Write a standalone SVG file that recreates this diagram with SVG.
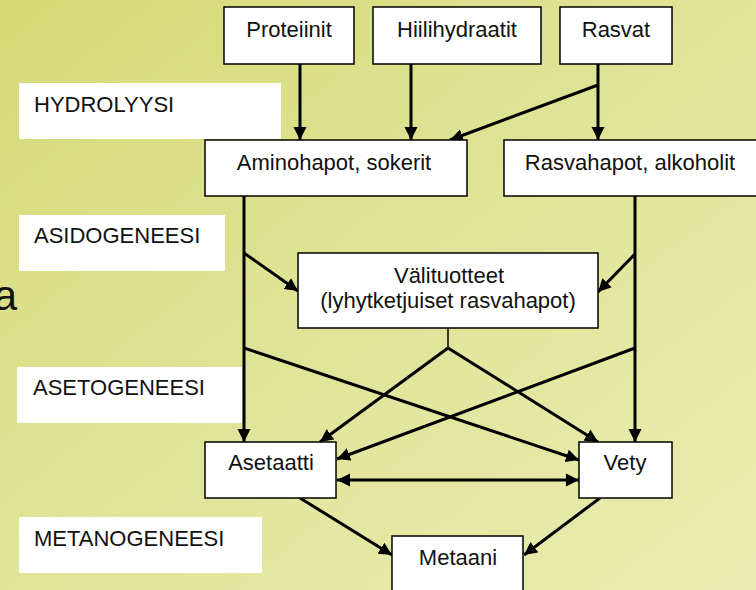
<svg xmlns="http://www.w3.org/2000/svg" width="756" height="590" viewBox="0 0 756 590">
<defs>
<linearGradient id="bg" x1="0" y1="0" x2="1" y2="1">
<stop offset="0" stop-color="#d4da76"/>
<stop offset="0.5" stop-color="#e0e498"/>
<stop offset="1" stop-color="#ebecb2"/>
</linearGradient>
<marker id="ah" markerUnits="userSpaceOnUse" markerWidth="14" markerHeight="14" viewBox="0 0 14 14" refX="13" refY="7" orient="auto-start-reverse">
<path d="M0,0.5 L13,7 L0,13.5 Z" fill="#000"/>
</marker>
<style>
.box{fill:#fff;stroke:#000;stroke-width:1.5}
.lbl{fill:#fff}
text{font-family:"Liberation Sans",Arial,sans-serif;font-size:22px;fill:#111}
.c{text-anchor:middle}
.ln{fill:none;stroke:#000;stroke-width:3}
.thin{fill:none;stroke:#000;stroke-width:1.5}
.arr{marker-end:url(#ah)}
</style>
</defs>
<rect x="0" y="0" width="756" height="590" fill="url(#bg)"/>
<text x="17" y="310" style="font-size:42px;text-anchor:end">a</text>

<g id="lbl-hydrolyysi"><rect class="lbl" x="19" y="83" width="262" height="56"/><text x="34" y="112">HYDROLYYSI</text></g>
<g id="lbl-asidogeneesi"><rect class="lbl" x="19" y="215" width="206" height="56"/><text x="34" y="243">ASIDOGENEESI</text></g>
<g id="lbl-asetogeneesi"><rect class="lbl" x="17" y="367" width="225" height="56"/><text x="33" y="395">ASETOGENEESI</text></g>
<g id="lbl-metanogeneesi"><rect class="lbl" x="19" y="517" width="243" height="56"/><text x="34" y="546">METANOGENEESI</text></g>

<g id="connectors">
<line class="ln arr" x1="300" y1="64" x2="300" y2="140"/>
<line class="ln arr" x1="411" y1="64" x2="411" y2="140"/>
<line class="ln arr" x1="598" y1="64" x2="598" y2="140"/>
<line class="ln arr" x1="598" y1="85" x2="450" y2="140"/>
<line class="ln arr" x1="244" y1="196" x2="244" y2="442"/>
<line class="ln arr" x1="244" y1="253" x2="298" y2="291"/>
<line class="ln arr" x1="635" y1="196" x2="635" y2="442"/>
<line class="ln arr" x1="635" y1="254" x2="598" y2="292"/>
<line class="ln arr" x1="244" y1="348" x2="579" y2="460"/>
<line class="ln arr" x1="635" y1="348" x2="337" y2="459"/>
<line class="thin" x1="448" y1="328" x2="448" y2="348"/>
<line class="ln arr" x1="448" y1="348" x2="320" y2="442"/>
<line class="ln arr" x1="448" y1="348" x2="598" y2="442"/>
<line class="ln arr" x1="337" y1="480" x2="579" y2="480" style="marker-start:url(#ah)"/>
<line class="ln arr" x1="300" y1="498" x2="392" y2="555"/>
<line class="ln arr" x1="600" y1="498" x2="524" y2="555"/>
</g>

<g id="proteiinit"><rect class="box" x="224" y="7" width="130" height="57"/><text class="c" x="289" y="37">Proteiinit</text></g>
<g id="hiilihydraatit"><rect class="box" x="373" y="7" width="168" height="57"/><text class="c" x="457" y="37">Hiilihydraatit</text></g>
<g id="rasvat"><rect class="box" x="560" y="7" width="112" height="57"/><text class="c" x="616" y="37">Rasvat</text></g>
<g id="aminohapot"><rect class="box" x="205" y="140" width="262" height="56"/><text class="c" x="334" y="170">Aminohapot, sokerit</text></g>
<g id="rasvahapot"><rect class="box" x="504" y="140" width="262" height="56"/><text class="c" x="630" y="170">Rasvahapot, alkoholit</text></g>
<g id="valituotteet"><rect class="box" x="298" y="253" width="300" height="75"/><text class="c" x="449" y="283">Välituotteet</text><text class="c" x="448" y="308">(lyhytketjuiset rasvahapot)</text></g>
<g id="asetaatti"><rect class="box" x="205" y="442" width="131" height="56"/><text class="c" x="271" y="470">Asetaatti</text></g>
<g id="vety"><rect class="box" x="579" y="442" width="93" height="56"/><text class="c" x="625" y="470">Vety</text></g>
<g id="metaani"><rect class="box" x="392" y="536" width="131" height="60"/><text class="c" x="458" y="565">Metaani</text></g>
</svg>
